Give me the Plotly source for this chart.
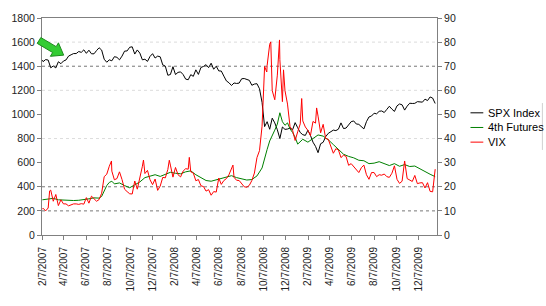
import pandas as pd
import plotly.graph_objects as go

# ---------------- data ----------------
spx_start_date = "2007-02-07"
spx_start_value = 1450
weekly_dates = pd.date_range("2007-02-09", "2010-01-22", freq="W-FRI")

spx_weekly = [
    # 2007
    1438, 1455, 1451, 1387, 1402, 1386, 1437, 1421, 1443, 1452, 1484, 1495,
    1505, 1505, 1522, 1515, 1536, 1507, 1533, 1503, 1503, 1530, 1553, 1534,
    1458, 1433, 1453, 1445, 1479, 1474, 1453, 1484, 1525, 1527, 1557, 1561,
    1501, 1535, 1509, 1453, 1458, 1440, 1481, 1504, 1468, 1484, 1478,
    # 2008
    1411, 1401, 1325, 1331, 1396, 1331, 1349, 1353, 1331, 1293, 1288, 1330,
    1316, 1370, 1332, 1390, 1398, 1413, 1388, 1425, 1375, 1400, 1361, 1360,
    1318, 1278, 1263, 1240, 1261, 1257, 1260, 1296, 1298, 1292, 1283, 1242,
    1252, 1255, 1213, 1100, 899, 940, 877, 969, 930, 873, 800, 896,
    876, 879, 887, 873,
    # 2009
    932, 890, 850, 832, 826, 869, 827, 770, 735, 683, 757, 769,
    816, 843, 857, 870, 866, 878, 930, 883, 887, 919, 940, 946,
    921, 918, 896, 880, 940, 979, 987, 1010, 1005, 1026, 1029, 1016,
    1042, 1068, 1044, 1025, 1071, 1087, 1080, 1036, 1069, 1093, 1091, 1092,
    1106, 1106, 1102, 1127,
    # 2010
    1115, 1145, 1136, 1091,
]

vix_start_value = 10.7
vix_weekly = [
    # 2007
    11.1, 10.0, 11.2, 18.6, 14.0, 16.8, 12.2, 14.6, 12.9, 12.9, 12.1, 12.5,
    12.9, 12.9, 12.7, 13.0, 12.8, 15.5, 13.2, 16.1, 15.2, 14.0, 14.7, 17.3,
    24.2, 25.2, 28.5, 26.5, 22.9, 23.4, 26.2, 23.0, 19.0, 18.0, 17.1, 17.0,
    22.4, 19.0, 23.2, 28.5, 25.5, 26.8, 22.9, 20.9, 23.2, 18.5, 20.3,
    # 2008
    23.9, 23.7, 27.2, 29.0, 24.0, 28.0, 25.0, 24.1, 26.5, 27.5, 27.3, 26.2,
    25.7, 22.5, 23.0, 20.4, 20.1, 18.2, 18.8, 16.5, 18.0, 17.8, 23.6, 21.0,
    22.6, 23.4, 25.0, 27.5, 23.9, 22.7, 22.6, 21.2, 20.0, 19.8, 20.6, 22.6,
    25.7, 32.1, 35.0, 45.1, 69.9, 70.3, 79.1, 59.9, 56.1, 66.3, 72.7, 55.3,
    59.9, 54.3, 44.9, 43.4,
    # 2009
    39.2, 42.8, 46.1, 47.3, 44.8, 43.4, 41.2, 47.1, 46.4, 49.3, 42.4, 45.9,
    40.0, 39.7, 36.5, 33.9, 35.8, 35.3, 32.1, 33.1, 32.6, 28.9, 29.6, 28.2,
    27.0, 25.9, 27.9, 29.0, 25.0, 23.1, 25.9, 25.9, 24.2, 25.0, 24.8, 25.3,
    24.2, 23.9, 25.6, 28.7, 23.1, 21.4, 22.3, 30.7, 23.4, 22.7, 22.2, 24.7,
    21.3, 21.6, 21.7, 19.5,
    # 2010
    21.7, 18.1, 17.9, 27.3,
]

vix_peak_dates = ["2007-02-27", "2007-08-16", "2007-11-12", "2008-01-22", "2008-03-17",
                  "2008-07-15", "2008-10-16", "2008-10-27", "2008-11-20", "2008-12-01",
                  "2009-01-20", "2009-03-02"]
vix_peak_values = [18.3, 30.7, 31.1, 31.0, 32.2, 29.0, 67.6, 80.1, 80.9, 68.5, 56.6, 52.7]

fut_dates = [
    "2007-02-07", "2007-02-23", "2007-03-09", "2007-03-23", "2007-04-06", "2007-04-20",
    "2007-05-04", "2007-05-18", "2007-06-01", "2007-06-15", "2007-06-29", "2007-07-13",
    "2007-07-20", "2007-07-27", "2007-08-03", "2007-08-10", "2007-08-17", "2007-08-24",
    "2007-09-07", "2007-09-21", "2007-10-05", "2007-10-19", "2007-11-02", "2007-11-16",
    "2007-11-30", "2007-12-14", "2007-12-28", "2008-01-11", "2008-01-25", "2008-02-08",
    "2008-02-22", "2008-03-07", "2008-03-21", "2008-04-04", "2008-04-18", "2008-05-02",
    "2008-05-16", "2008-05-30", "2008-06-13", "2008-06-27", "2008-07-11", "2008-07-25",
    "2008-08-08", "2008-08-22", "2008-09-05", "2008-09-19", "2008-10-03", "2008-10-10",
    "2008-10-17", "2008-10-24", "2008-10-31", "2008-11-07", "2008-11-14", "2008-11-21",
    "2008-11-28", "2008-12-05", "2008-12-12", "2008-12-19", "2008-12-26", "2009-01-02",
    "2009-01-09", "2009-01-23", "2009-02-06", "2009-02-20", "2009-03-06", "2009-03-20",
    "2009-04-03", "2009-04-17", "2009-05-01", "2009-05-15", "2009-05-29", "2009-06-12",
    "2009-06-26", "2009-07-10", "2009-07-24", "2009-08-07", "2009-08-21", "2009-09-04",
    "2009-09-18", "2009-10-02", "2009-10-16", "2009-10-30", "2009-11-13", "2009-11-27",
    "2009-12-11", "2009-12-25", "2010-01-08", "2010-01-22",
]
fut_values = [
    14.6, 14.8, 15.2, 14.6, 14.5, 14.2,
    14.3, 14.4, 14.6, 15.0, 15.4, 15.3,
    16.0, 18.5, 20.5, 21.8, 22.3, 21.2,
    21.6, 20.5, 19.6, 20.8, 22.0, 23.8,
    24.5, 25.0, 24.3, 25.2, 26.0, 25.6,
    25.4, 26.2, 26.6, 25.0, 23.8, 22.6,
    22.3, 22.8, 23.5, 24.0, 24.6, 23.8,
    23.2, 22.8, 23.0, 24.5, 27.8, 32.0,
    35.5, 39.0, 41.0, 43.5, 46.0, 50.7,
    47.0, 45.5, 46.5, 44.0, 42.5, 40.5,
    37.7, 39.7, 38.5, 40.0, 41.5, 41.0,
    39.5, 37.5, 35.5, 33.5, 32.6, 32.0,
    31.0, 30.8, 29.6, 29.8, 30.4, 29.5,
    28.8, 29.6, 28.5, 29.2, 28.4, 28.6,
    27.4, 26.4, 25.2, 24.2,
]

tick_dates = ["2007-02-07", "2007-04-07", "2007-06-07", "2007-08-07", "2007-10-07", "2007-12-07",
              "2008-02-07", "2008-04-07", "2008-06-07", "2008-08-07", "2008-10-07", "2008-12-07",
              "2009-02-07", "2009-04-07", "2009-06-07", "2009-08-07", "2009-10-07", "2009-12-07"]

series_names = ["SPX Index", "4th Futures", "VIX"]
series_colors = ["#000000", "#008000", "#ff0000"]

assert len(weekly_dates) == len(spx_weekly) == len(vix_weekly)
assert len(fut_dates) == len(fut_values)

# ---------------- build series ----------------
spx = pd.concat([pd.Series([spx_start_value], index=pd.to_datetime([spx_start_date])),
                 pd.Series(spx_weekly, index=weekly_dates)]).sort_index()
vix = pd.concat([pd.Series([vix_start_value], index=pd.to_datetime([spx_start_date])),
                 pd.Series(vix_weekly, index=weekly_dates),
                 pd.Series(vix_peak_values, index=pd.to_datetime(vix_peak_dates))]).sort_index()
fut = pd.Series(fut_values, index=pd.to_datetime(fut_dates))

W, H = 546, 306
L, R, T, B = 36, 437, 13, 235
FONT = "Arial, 'Liberation Sans', sans-serif"


def px(x):
    return (x - L) / (R - L)


def py(y):
    return (B - y) / (B - T)


fig = go.Figure()
fig.add_trace(go.Scatter(x=spx.index, y=spx.values, name=series_names[0], mode="lines",
                         line=dict(color=series_colors[0], width=1), yaxis="y"))
fig.add_trace(go.Scatter(x=fut.index, y=fut.values, name=series_names[1], mode="lines",
                         line=dict(color=series_colors[1], width=1), yaxis="y2"))
fig.add_trace(go.Scatter(x=vix.index, y=vix.values, name=series_names[2], mode="lines",
                         line=dict(color=series_colors[2], width=1), yaxis="y2"))

shapes = []
# grid lines
for v in [800, 1200, 1600]:
    shapes.append(dict(type="line", xref="paper", yref="y", x0=0, x1=1, y0=v, y1=v,
                       line=dict(color="#dcdcdc", width=1, dash="dot"), layer="below"))
for v in [200, 400, 1400]:
    shapes.append(dict(type="line", xref="paper", yref="y", x0=0, x1=1, y0=v, y1=v,
                       line=dict(color="#777777", width=1, dash="dot"), layer="below"))

# green arrow (decoration)
arrow_px = [(34.8, 33.0), (50.4, 42.3), (52.7, 38.4), (58.0, 51.0), (44.5, 52.2), (46.8, 48.3), (31.2, 39.0)]
path = "M " + " L ".join(f"{px(a):.4f},{py(b):.4f}" for a, b in arrow_px) + " Z"
shapes.append(dict(type="path", xref="paper", yref="paper", path=path,
                   fillcolor="#33cc33", line=dict(color="#1f8a1f", width=1)))

# manual legend
annotations = []
leg_y = [110, 125, 140]
for name, color, yy in zip(series_names, series_colors, leg_y):
    shapes.append(dict(type="line", xref="paper", yref="paper", x0=px(471), x1=px(484),
                       y0=py(yy), y1=py(yy), line=dict(color=color, width=1)))
    annotations.append(dict(xref="paper", yref="paper", x=px(487), y=py(yy), text=name,
                            showarrow=False, xanchor="left", yanchor="middle",
                            font=dict(family=FONT, size=11, color="#000000")))
shapes.append(dict(type="line", xref="paper", yref="paper", x0=px(544), x1=px(544),
                   y0=py(100), y1=py(148), line=dict(color="#d0d0d0", width=1)))

axis_font = dict(family=FONT, size=10.5, color="#222222")
fig.update_layout(
    width=W, height=H,
    margin=dict(l=L, r=W - R, t=T, b=H - B, pad=0),
    paper_bgcolor="white", plot_bgcolor="white",
    showlegend=False,
    shapes=shapes, annotations=annotations,
    xaxis=dict(type="date", range=["2007-02-06", "2010-01-27"],
               tickvals=tick_dates, tickformat="%-m/%-d/%Y", tickangle=-90,
               ticks="outside", ticklen=4, tickcolor="#808080", ticklabelstandoff=3,
               showline=True, linecolor="#808080", linewidth=1, mirror=True,
               showgrid=False, zeroline=False, tickfont=dict(family=FONT, size=10, color="#222222")),
    yaxis=dict(range=[0, 1800], dtick=200, ticks="outside", ticklen=4, tickcolor="#808080",
               showline=True, linecolor="#808080", linewidth=1, showgrid=False, zeroline=False,
               tickfont=axis_font),
    yaxis2=dict(range=[0, 90], dtick=10, overlaying="y", side="right",
                ticks="outside", ticklen=4, tickcolor="#808080",
                showline=True, linecolor="#808080", linewidth=1, showgrid=False, zeroline=False,
                tickfont=axis_font),
)

fig.write_html("out.html")
